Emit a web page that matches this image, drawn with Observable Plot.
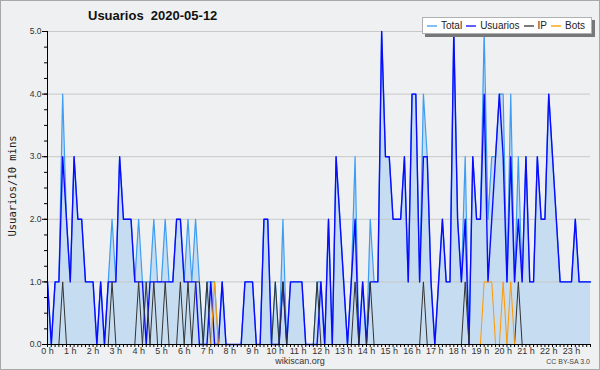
<!DOCTYPE html>
<html>
<head>
<meta charset="utf-8">
<script src="https://cdn.jsdelivr.net/npm/d3@7"></script>
<script src="https://cdn.jsdelivr.net/npm/@observablehq/plot@0.6"></script>
<style>
  html, body { margin: 0; padding: 0; background: #fff; }
  #wrap { position: relative; width: 600px; height: 370px; background: #eff0f1; overflow: hidden; font-family: "Liberation Sans", Arial, sans-serif; }
  #wrap > svg.chart { position: absolute; left: 0; top: 0; }
  #border { position: absolute; left: 0; top: 0; width: 598px; height: 368px; border: 1px solid #a8a8a8; pointer-events: none; }
  #title { position: absolute; left: 88px; top: 8px; font: bold 13px "Liberation Sans", Arial, sans-serif; color: #111; white-space: pre; }
  #ylabel { position: absolute; left: 12px; top: 186px; transform: translate(-50%, -50%) rotate(-90deg); font: 10.5px "DejaVu Sans Mono", monospace; color: #222; white-space: nowrap; }
  #legend { position: absolute; left: 422px; top: 17px; width: 168px; height: 15px; background: #fff; border: 1px solid #b0b0b0; box-shadow: 3px 3px 0 #777; display: flex; align-items: center; font: 10px "Liberation Sans", Arial, sans-serif; color: #222; white-space: nowrap; }
  #legend svg { display: block; margin: 0 4px 0 4px; }
  #foot1 { position: absolute; left: 0; width: 600px; top: 356px; text-align: center; font: 9px "Liberation Sans", Arial, sans-serif; color: #333; }
  #foot2 { position: absolute; right: 10px; top: 358px; font: 7px "Liberation Sans", Arial, sans-serif; color: #444; }
</style>
</head>
<body>
<div id="wrap">
  <div id="title"></div>
  <div id="ylabel"></div>
  <div id="legend"></div>
  <div id="foot1"></div>
  <div id="foot2"></div>
  <div id="border"></div>
</div>
<script>
const titleText = "Usuarios  2020-05-12";
const yLabel = "Usuarios/10 mins";
const seriesNames = ["Total", "Usuarios", "IP", "Bots"];
const seriesColors = ["#3d9df2", "#0a0aff", "#333333", "#ff9900"];
const hourLabels = d3.range(24).map(h => h + " h");
const yTicks = [0, 1, 2, 3, 4, 5];
const footer = "wikiscan.org";
const license = "CC BY-SA 3.0";

// one value per 10 minutes, 00:00 .. 23:50
const usuarios = [
  1,0,1,1,3,2,1,3,2,2,
  1,1,1,0,1,0,1,1,1,3,
  2,2,2,1,1,1,0,1,1,1,
  1,1,1,1,2,2,1,1,1,1,
  0,0,0,1,0,0,1,0,0,0,
  0,0,1,1,1,0,0,2,2,0,
  0,0,1,0,1,1,1,1,0,0,
  0,0,1,0,2,0,3,2,1,0,
  1,2,0,1,0,1,1,1,5,3,
  3,2,2,2,3,1,4,4,1,3,
  3,1,0,1,2,1,1,5,2,1,
  2,0,3,2,2,4,1,2,3,4,
  3,1,3,1,2,1,3,1,1,3,
  2,2,4,3,2,1,1,1,1,2,
  1,1,1,1
];
const total = [
  1,0,1,1,4,2,1,3,2,2,
  1,1,1,0,1,0,1,2,1,3,
  2,2,2,1,2,1,1,1,2,1,
  1,2,1,1,2,2,1,2,1,2,
  1,0,1,1,1,0,1,0,0,0,
  0,0,1,1,1,0,0,2,2,0,
  1,0,2,0,1,1,1,1,0,0,
  0,1,1,0,2,0,3,2,1,0,
  1,3,0,1,0,2,1,1,5,3,
  3,2,2,2,3,1,4,4,1,4,
  3,1,0,1,2,1,1,5,2,1,
  3,0,3,2,2,5,2,3,3,4,
  4,1,4,1,3,1,3,1,1,3,
  2,2,4,3,2,1,1,1,1,2,
  1,1,1,1
];
const ip = [
  0,0,0,0,1,0,0,0,0,0,
  0,0,0,0,0,0,0,1,0,0,
  0,0,0,0,1,0,1,0,1,0,
  0,1,0,0,0,1,0,1,0,1,
  1,0,1,0,0,0,0,0,0,0,
  0,0,0,0,0,0,0,0,0,0,
  1,0,1,0,0,0,0,0,0,0,
  0,1,0,0,0,0,0,0,0,0,
  0,1,0,0,0,1,0,0,0,0,
  0,0,0,0,0,0,0,0,0,1,
  0,0,0,0,0,0,0,0,0,0,
  1,0,0,0,0,0,0,0,0,0,
  0,0,0,0,1,0,0,0,0,0,
  0,0,0,0,0,0,0,0,0,0,
  0,0,0,0
];
const bots = [
  0,0,0,0,0,0,0,0,0,0,
  0,0,0,0,0,0,0,0,0,0,
  0,0,0,0,0,0,0,0,0,0,
  0,0,0,0,0,0,0,0,0,0,
  0,0,0,0,1,0,0,0,0,0,
  0,0,0,0,0,0,0,0,0,0,
  0,0,0,0,0,0,0,0,0,0,
  0,0,0,0,0,0,0,0,0,0,
  0,0,0,0,0,0,0,0,0,0,
  0,0,0,0,0,0,0,0,0,0,
  0,0,0,0,0,0,0,0,0,0,
  0,0,0,0,0,1,1,1,0,0,
  1,0,1,0,0,0,0,0,0,0,
  0,0,0,0,0,0,0,0,0,0,
  0,0,0,0
];

const data = usuarios.map((u, i) => ({i, u, t: total[i], ip: ip[i], b: bots[i]}));

const chart = Plot.plot({
  className: "chart",
  width: 600,
  height: 370,
  marginLeft: 47,
  marginRight: 10,
  marginTop: 31,
  marginBottom: 26,
  style: {background: "transparent", fontFamily: "Liberation Sans, Arial, sans-serif", color: "#333", overflow: "visible"},
  x: {domain: [0, usuarios.length - 1], axis: null},
  y: {domain: [0, 5], axis: null},
  marks: [
    Plot.areaY(data, {x: "i", y: "t", fill: "#c6dcf0"}),
    Plot.gridY(yTicks.slice(1), {stroke: "#c8c8c8", strokeOpacity: 1, strokeWidth: 1}),
    Plot.lineY(data, {x: "i", y: "t", stroke: seriesColors[0], strokeWidth: 1.2}),
    Plot.lineY(data, {x: "i", y: "u", stroke: seriesColors[1], strokeWidth: 1.4}),
    Plot.lineY(data, {x: "i", y: "ip", stroke: seriesColors[2], strokeWidth: 1}),
    Plot.lineY(data, {x: "i", y: "b", stroke: seriesColors[3], strokeWidth: 1}),
    Plot.ruleX([0], {stroke: "#000", strokeWidth: 1}),
    Plot.ruleY([0], {stroke: "#000", strokeWidth: 1}),
    Plot.axisY({ticks: yTicks, tickSize: 5, tickPadding: 1, tickFormat: d3.format(".1f"), fontSize: 8.5, label: null, stroke: "#000"}),
    Plot.axisY({ticks: d3.range(0, 5.001, 0.25), tickSize: 3, tickFormat: () => "", label: null, stroke: "#000"}),
    Plot.axisX({ticks: d3.range(0, usuarios.length), tickSize: 3, tickFormat: () => "", label: null, stroke: "#000"}),
    Plot.axisX({ticks: d3.range(0, 24).map(h => h * 6), tickSize: 0, tickPadding: 3.5, tickFormat: d => hourLabels[d / 6], fontSize: 9, label: null})
  ]
});
document.getElementById("wrap").insertBefore(chart, document.getElementById("title"));

document.getElementById("title").textContent = titleText;
document.getElementById("ylabel").textContent = yLabel;
document.getElementById("foot1").textContent = footer;
document.getElementById("foot2").textContent = license;
const legend = document.getElementById("legend");
const NS = "http://www.w3.org/2000/svg";
seriesNames.forEach((name, k) => {
  const sw = document.createElementNS(NS, "svg");
  sw.setAttribute("width", "10");
  sw.setAttribute("height", "4");
  const ln = document.createElementNS(NS, "line");
  ln.setAttribute("x1", "0"); ln.setAttribute("x2", "10");
  ln.setAttribute("y1", "2"); ln.setAttribute("y2", "2");
  ln.setAttribute("stroke", seriesColors[k]);
  ln.setAttribute("stroke-width", "1.3");
  sw.appendChild(ln);
  legend.appendChild(sw);
  const tx = document.createElement("span");
  tx.textContent = name;
  legend.appendChild(tx);
});
</script>
</body>
</html>
